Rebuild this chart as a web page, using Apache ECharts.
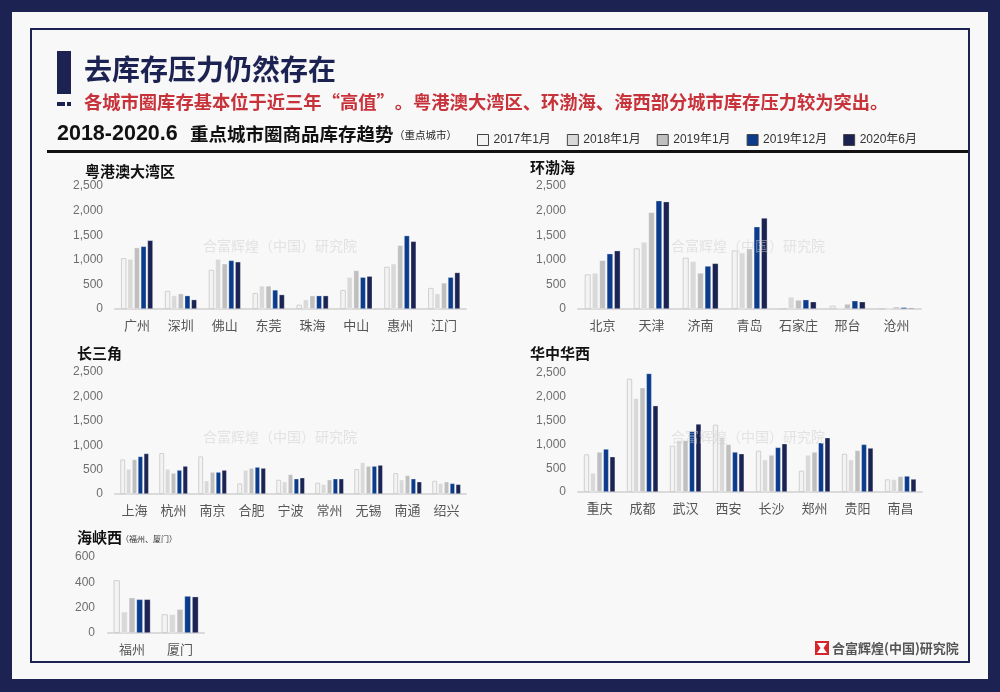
<!DOCTYPE html>
<html>
<head>
<meta charset="utf-8">
<script src="https://cdn.jsdelivr.net/npm/echarts@6/dist/echarts.min.js"></script>
<style>
html,body{margin:0;padding:0;background:#1c2251;}
#c{width:1000px;height:692px;}
</style>
</head>
<body>
<div id="c"></div>
<script>
// ---------- data ----------
const seriesNames = ['2017年1月', '2018年1月', '2019年1月', '2019年12月', '2020年6月'];
const seriesColors = ['#f3f3f3', '#d9d9d9', '#bfbfbf', '#0b3c8c', '#1a2352'];

const gbaCities = ['广州', '深圳', '佛山', '东莞', '珠海', '中山', '惠州', '江门'];
const gba2017 = [1035, 368, 797, 327, 89, 388, 858, 429];
const gba2018 = [1015, 272, 1015, 470, 191, 647, 920, 313];
const gba2019 = [1247, 313, 920, 470, 272, 783, 1294, 531];
const gba201912 = [1274, 272, 988, 388, 272, 647, 1492, 647];
const gba202006 = [1396, 191, 960, 293, 272, 668, 1376, 742];

const bohaiCities = ['北京', '天津', '济南', '青岛', '石家庄', '邢台', '沧州'];
const bohai2017 = [705, 1233, 1043, 1192, 14, 68, 10];
const bohai2018 = [732, 1362, 969, 1145, 244, 27, 5];
const bohai2019 = [989, 1965, 732, 1226, 183, 102, 45];
const bohai201912 = [1125, 2202, 874, 1673, 190, 169, 34];
const bohai202006 = [1186, 2182, 928, 1850, 149, 149, 22];

const yrdCities = ['上海', '杭州', '南京', '合肥', '宁波', '常州', '无锡', '南通', '绍兴'];
const yrd2017 = [708, 838, 770, 218, 293, 232, 511, 429, 272];
const yrd2018 = [511, 511, 272, 490, 252, 198, 647, 293, 218];
const yrd2019 = [708, 429, 449, 531, 402, 293, 572, 381, 252];
const yrd201912 = [770, 490, 449, 552, 313, 313, 572, 313, 218];
const yrd202006 = [831, 572, 490, 531, 334, 313, 593, 252, 198];

const centralCities = ['重庆', '成都', '武汉', '西安', '长沙', '郑州', '贵阳', '南昌'];
const central2017 = [791, 2381, 973, 1415, 868, 448, 805, 266];
const central2018 = [399, 1968, 1085, 1155, 679, 777, 679, 266];
const central2019 = [840, 2192, 1085, 1001, 777, 840, 875, 329];
const central201912 = [903, 2490, 1275, 840, 938, 1036, 1001, 336];
const central202006 = [742, 1814, 1429, 805, 1015, 1141, 924, 273];

const westCities = ['福州', '厦门'];
const west2017 = [417, 148];
const west2018 = [167, 148];
const west2019 = [279, 188];
const west201912 = [266, 292];
const west202006 = [266, 287];

const yTicksBig = [0, 500, 1000, 1500, 2000, 2500];
const yTicksSmall = [0, 200, 400, 600];

// ---------- panels ----------
const panels = [
  { title: '粤港澳大湾区', cats: gbaCities, vals: [gba2017, gba2018, gba2019, gba201912, gba202006],
    grid: { left: 115, top: 186, width: 351, height: 123 }, ticks: yTicksBig, titlePos: [85, 171], wm: [280, 246], gap: '27%' },
  { title: '环渤海', cats: bohaiCities, vals: [bohai2017, bohai2018, bohai2019, bohai201912, bohai202006],
    grid: { left: 578, top: 186, width: 343, height: 123 }, ticks: yTicksBig, titlePos: [530, 167], wm: [748, 246], gap: '27%' },
  { title: '长三角', cats: yrdCities, vals: [yrd2017, yrd2018, yrd2019, yrd201912, yrd202006],
    grid: { left: 115, top: 372, width: 351, height: 122 }, ticks: yTicksBig, titlePos: [77, 353], wm: [280, 437], gap: '27%' },
  { title: '华中华西', cats: centralCities, vals: [central2017, central2018, central2019, central201912, central202006],
    grid: { left: 578, top: 373, width: 344, height: 119 }, ticks: yTicksBig, titlePos: [530, 353], wm: [748, 437], gap: '27%' },
  { title: '海峡西', cats: westCities, vals: [west2017, west2018, west2019, west201912, west202006],
    grid: { left: 108, top: 557, width: 96, height: 76 }, ticks: yTicksSmall, titlePos: [77, 537], wm: null, gap: '23%' }
];

const grids = [], xAxes = [], yAxes = [], series = [];
const graphics = [];

// background & frames
graphics.push({ type: 'rect', shape: { x: 12, y: 12, width: 976, height: 667 }, style: { fill: '#f8f8f8' }, z: -10 });
graphics.push({ type: 'rect', shape: { x: 31, y: 29, width: 938, height: 633 }, style: { fill: 'none', stroke: '#1c2251', lineWidth: 2 }, z: -9 });
// title marker
graphics.push({ type: 'rect', shape: { x: 57, y: 51, width: 14, height: 43 }, style: { fill: '#1c2251' } });
graphics.push({ type: 'rect', shape: { x: 57, y: 102, width: 8, height: 4 }, style: { fill: '#1c2251' } });
graphics.push({ type: 'rect', shape: { x: 67, y: 102, width: 4, height: 4 }, style: { fill: '#1c2251' } });
graphics.push({ type: 'text', style: { text: '去库存压力仍然存在', x: 84, y: 69, fill: '#1c2251',
  font: 'bold 28px "Noto Sans CJK SC", sans-serif', textVerticalAlign: 'middle' } });
graphics.push({ type: 'text', style: { text: '各城市圈库存基本位于近三年“高值”。粤港澳大湾区、环渤海、海西部分城市库存压力较为突出。', x: 84, y: 102, fill: '#c8323a',
  font: 'bold 18.3px "Noto Sans CJK SC", sans-serif', textVerticalAlign: 'middle' } });
graphics.push({ type: 'text', style: { text: '2018-2020.6', x: 57, y: 134, fill: '#111',
  font: 'bold 21.5px "Liberation Sans", Arial, sans-serif', textVerticalAlign: 'middle' } });
graphics.push({ type: 'text', style: { text: '重点城市圈商品库存趋势', x: 190, y: 134, fill: '#111',
  font: 'bold 18.5px "Noto Sans CJK SC", sans-serif', textVerticalAlign: 'middle' } });
graphics.push({ type: 'text', style: { text: '（重点城市）', x: 394, y: 135, fill: '#222',
  font: '10.5px "Noto Sans CJK SC", sans-serif', textVerticalAlign: 'middle' } });
graphics.push({ type: 'rect', shape: { x: 47, y: 150, width: 921, height: 3 }, style: { fill: '#111' } });
// logo
graphics.push({ type: 'rect', shape: { x: 815, y: 641, width: 14, height: 14 }, style: { fill: '#d7262b' } });
graphics.push({ type: 'polygon', shape: { points: [[817, 643], [827, 643], [823.5, 648], [827, 653], [817, 653], [820.5, 648]] }, style: { fill: '#ffffff' } });
graphics.push({ type: 'text', style: { text: '合富辉煌(中国)研究院', x: 832, y: 648, fill: '#555',
  font: 'bold 13px "Noto Sans CJK SC", sans-serif', textVerticalAlign: 'middle' } });
// 海峡西 note
graphics.push({ type: 'text', style: { text: '（福州、厦门）', x: 121, y: 539, fill: '#333',
  font: '8px "Noto Sans CJK SC", sans-serif', textVerticalAlign: 'middle' } });

panels.forEach((p, i) => {
  grids.push(Object.assign({ containLabel: false }, p.grid));
  xAxes.push({
    type: 'category', gridIndex: i, data: p.cats,
    axisTick: { show: false },
    axisLine: { lineStyle: { color: '#dadada', width: 2 } },
    axisLabel: { interval: 0, color: '#555', fontSize: 13, margin: 10, fontFamily: '"Noto Sans CJK SC", sans-serif' }
  });
  const tmax = p.ticks[p.ticks.length - 1];
  yAxes.push({
    type: 'value', gridIndex: i, min: 0, max: tmax, interval: p.ticks[1] - p.ticks[0],
    splitLine: { show: false }, axisLine: { show: false }, axisTick: { show: false },
    axisLabel: { color: '#6e6e6e', fontSize: 12, margin: i === 4 ? 13 : 12, fontFamily: '"Liberation Sans", Arial, sans-serif',
      formatter: v => v.toLocaleString('en-US') }
  });
  p.vals.forEach((arr, k) => {
    series.push({
      type: 'bar', name: seriesNames[k], xAxisIndex: i, yAxisIndex: i, data: arr,
      barGap: '20%', barCategoryGap: p.gap,
      itemStyle: k === 0
        ? { color: seriesColors[k], borderColor: '#d0d0d0', borderWidth: 1 }
        : { color: seriesColors[k], borderColor: 'rgba(255,255,255,0.5)', borderWidth: 0.6 },
      emphasis: { disabled: true }, animation: false
    });
  });
  graphics.push({ type: 'text', style: { text: p.title, x: p.titlePos[0], y: p.titlePos[1], fill: '#111',
    font: 'bold 15px "Noto Sans CJK SC", sans-serif', textVerticalAlign: 'middle' } });
  if (p.wm) {
    graphics.push({ type: 'text', z: 100, style: { text: '合富辉煌（中国）研究院', x: p.wm[0], y: p.wm[1], fill: 'rgba(205,205,205,0.5)',
      font: '14px "Noto Sans CJK SC", sans-serif', textAlign: 'center', textVerticalAlign: 'middle' } });
  }
});

const chart = echarts.init(document.getElementById('c'), null, { renderer: 'canvas' });
chart.setOption({
  backgroundColor: '#1c2251',
  animation: false,
  legend: {
    data: seriesNames, left: 472, top: 129, icon: 'rect', itemWidth: 11, itemHeight: 11, itemGap: 16,
    itemStyle: { borderColor: '#444', borderWidth: 1 },
    textStyle: { color: '#333', fontSize: 12, fontFamily: '"Liberation Sans", "Noto Sans CJK SC", sans-serif' },
    selectedMode: false
  },
  grid: grids, xAxis: xAxes, yAxis: yAxes, series: series,
  graphic: { elements: graphics }
});
</script>
</body>
</html>
